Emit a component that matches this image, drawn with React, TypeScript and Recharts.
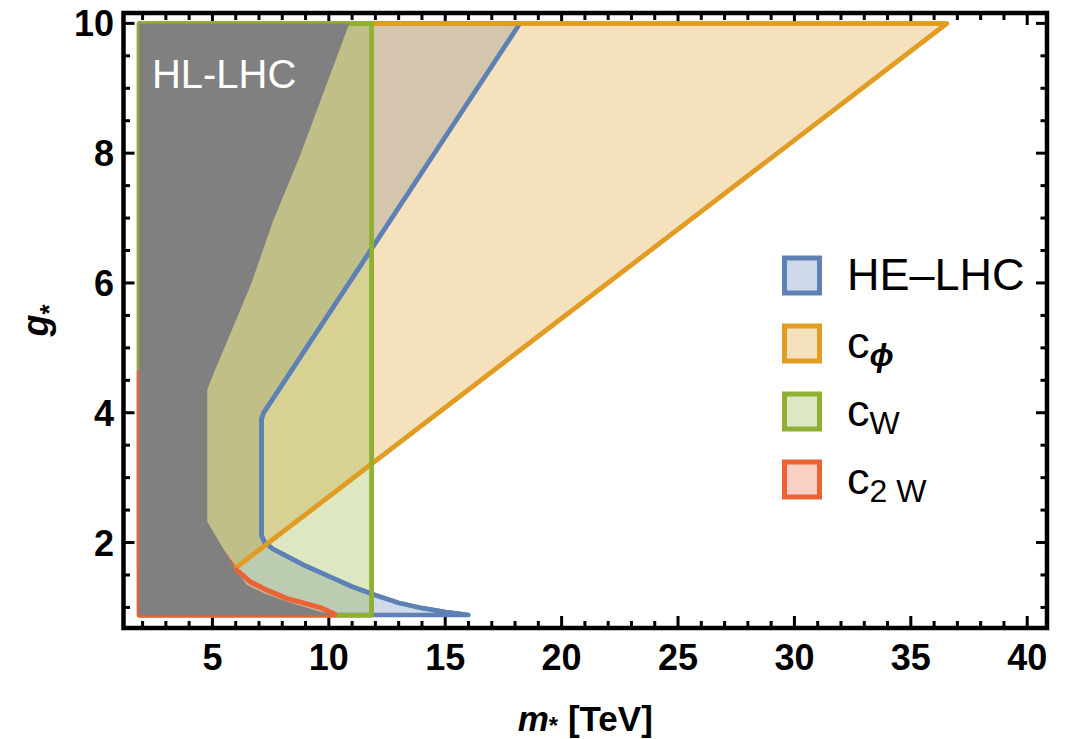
import React from 'react';
import { ScatterChart, Scatter, XAxis, YAxis, Legend, ReferenceDot, ReferenceLine, ReferenceArea } from 'recharts';

const FONT = '"Liberation Sans", Arial, Helvetica, sans-serif';

// ---- axis ticks ----
const xTicks = [2, 3, 4, 5, 6, 7, 8, 9, 10, 11, 12, 13, 14, 15, 16, 17, 18, 19, 20, 21, 22, 23, 24, 25, 26, 27, 28, 29, 30, 31, 32, 33, 34, 35, 36, 37, 38, 39, 40];
const xMajor = [5, 10, 15, 20, 25, 30, 35, 40];
const yTicks = [1, 1.5, 2, 2.5, 3, 3.5, 4, 4.5, 5, 5.5, 6, 6.5, 7, 7.5, 8, 8.5, 9, 9.5, 10];
const yMajor = [2, 4, 6, 8, 10];
const xDomain = [1.18, 40.85];
const yDomain = [0.683, 10.16];

// ---- regions (m_* [TeV], g_*) ----
const heLhcRegion = [
  { x: 1.85, y: 0.88 }, { x: 16.0, y: 0.885 }, { x: 15.0, y: 0.93 }, { x: 14.0, y: 0.99 },
  { x: 13.0, y: 1.07 }, { x: 12.0, y: 1.19 }, { x: 11.0, y: 1.32 }, { x: 10.0, y: 1.48 },
  { x: 9.0, y: 1.64 }, { x: 8.2, y: 1.79 }, { x: 7.6, y: 1.9 }, { x: 7.25, y: 2.0 },
  { x: 7.11, y: 2.1 }, { x: 7.11, y: 3.9 }, { x: 7.2, y: 4.0 }, { x: 7.33, y: 4.07 },
  { x: 18.21, y: 10 }, { x: 1.85, y: 10 },
];
const cPhiRegion = [
  { x: 5.97, y: 1.6 }, { x: 36.55, y: 10 }, { x: 1.85, y: 10 }, { x: 1.85, y: 1.6 },
];
const cWRegion = [
  { x: 1.85, y: 0.88 }, { x: 11.84, y: 0.88 }, { x: 11.84, y: 10 }, { x: 1.85, y: 10 },
];
const c2WRegion = [
  { x: 1.85, y: 0.88 }, { x: 10.33, y: 0.88 }, { x: 10.19, y: 0.91 }, { x: 9.62, y: 1.0 },
  { x: 8.19, y: 1.14 }, { x: 7.2, y: 1.29 }, { x: 6.61, y: 1.4 }, { x: 5.97, y: 1.6 },
  { x: 4.5, y: 2.3 }, { x: 3.0, y: 3.3 }, { x: 1.85, y: 4.63 },
];
const hlLhcRegion = [
  { x: 1.85, y: 0.88 }, { x: 10.2, y: 0.88 }, { x: 9.62, y: 0.934 }, { x: 8.19, y: 1.09 },
  { x: 7.2, y: 1.22 }, { x: 6.47, y: 1.345 }, { x: 5.97, y: 1.6 }, { x: 4.78, y: 2.32 },
  { x: 4.78, y: 4.35 }, { x: 4.93, y: 4.5 }, { x: 5.75, y: 5.2 }, { x: 6.68, y: 6.0 },
  { x: 7.6, y: 6.95 }, { x: 8.74, y: 7.94 }, { x: 10.88, y: 10 }, { x: 1.85, y: 10 },
];

// ---- visible boundary lines drawn on top ----
const heLhcEdge = [
  { x: 16.0, y: 0.885 }, { x: 15.0, y: 0.93 }, { x: 14.0, y: 0.99 }, { x: 13.0, y: 1.07 },
  { x: 12.0, y: 1.19 }, { x: 11.0, y: 1.32 }, { x: 10.0, y: 1.48 }, { x: 9.0, y: 1.64 },
  { x: 8.2, y: 1.79 }, { x: 7.6, y: 1.9 }, { x: 7.25, y: 2.0 }, { x: 7.11, y: 2.1 },
  { x: 7.11, y: 3.9 }, { x: 7.2, y: 4.0 }, { x: 7.33, y: 4.07 }, { x: 18.21, y: 10 },
];
const cPhiEdge = [{ x: 5.97, y: 1.6 }, { x: 36.55, y: 10 }, { x: 11.84, y: 10 }];
const cWEdge = [{ x: 10.33, y: 0.88 }, { x: 11.84, y: 0.88 }, { x: 11.84, y: 10 }, { x: 10.88, y: 10 }];
const c2WEdge = [
  { x: 10.33, y: 0.88 }, { x: 10.19, y: 0.91 }, { x: 9.62, y: 1.0 }, { x: 8.19, y: 1.14 },
  { x: 7.2, y: 1.29 }, { x: 6.61, y: 1.4 }, { x: 5.97, y: 1.6 },
];

// ---- legend ----
const legendLabels = ['HE–LHC', 'c', 'c', 'c'];
const legendSubs = ['', 'ϕ', 'W', '2 W'];
const legendColors = ['#5E81B5', '#E19C24', '#8FB032', '#EB6235'];

const pathOf = (pts: any[], close: boolean) =>
  pts.map((p: any, i: number) => (i ? 'L' : 'M') + p.x + ',' + p.y).join(' ') + (close ? ' Z' : '');

const polygonFill = (fill: string, fillOpacity: number) => (props: any) => {
  const pts = (props && props.points) || [];
  if (!pts.length) return <g />;
  return <path d={pathOf(pts, true)} fill={fill} fillOpacity={fillOpacity} stroke="none" />;
};
const polyStroke = (stroke: string, width: number, close: boolean) => (props: any) => {
  const pts = (props && props.points) || [];
  if (!pts.length) return <g />;
  return <path d={pathOf(pts, close)} fill="none" stroke={stroke} strokeWidth={width} strokeLinejoin="round" />;
};

const noShape = () => <g />;

const TK = 3; // tick thickness
const xTickShape = (major: boolean) => (p: any) => {
  const len = major ? 12 : 7;
  const x = Number(p.x1);
  const yb = Math.max(Number(p.y1), Number(p.y2));
  const yt = Math.min(Number(p.y1), Number(p.y2));
  return (
    <g>
      <rect x={x - TK / 2} y={yb - len} width={TK} height={len} fill="#000" />
      <rect x={x - TK / 2} y={yt} width={TK} height={len} fill="#000" />
    </g>
  );
};
const yTickShape = (major: boolean) => (p: any) => {
  const len = major ? 11 : 6.5;
  const y = Number(p.y1);
  const xl = Math.min(Number(p.x1), Number(p.x2));
  const xr = Math.max(Number(p.x1), Number(p.x2));
  return (
    <g>
      <rect x={xl} y={y - TK / 2} width={len} height={TK} fill="#000" />
      <rect x={xr - len} y={y - TK / 2} width={len} height={TK} fill="#000" />
    </g>
  );
};

const BottomLabel = (props: any) => {
  const { x, y, payload } = props;
  const v = payload.value;
  if (!xMajor.includes(v)) return <g />;
  return <text x={x} y={y + 42} textAnchor="middle" fontSize={36} fontWeight="bold" fontFamily={FONT} fill="#000">{v}</text>;
};
const LeftLabel = (props: any) => {
  const { x, y, payload } = props;
  const v = payload.value;
  if (!yMajor.includes(v)) return <g />;
  return <text x={x - 9.5} y={y + 13} textAnchor="end" fontSize={36} fontWeight="bold" fontFamily={FONT} fill="#000">{v}</text>;
};

const XTitle = (props: any) => {
  const vb = props.viewBox || { x: 123.5, y: 628, width: 923.5, height: 111 };
  return (
    <text x={vb.x + vb.width / 2} y={vb.y + 103} textAnchor="middle" fontSize={35} fontWeight="bold" fontFamily={FONT} fill="#000">
      <tspan fontStyle="italic">m</tspan>
      <tspan fontSize={24} dy={2.5}>*</tspan>
      <tspan dy={-2.5}> [TeV]</tspan>
    </text>
  );
};
const YTitle = (props: any) => {
  const vb = props.viewBox || { x: 0, y: 13, width: 123.5, height: 615 };
  const cx = 47.5;
  const cy = vb.y + vb.height / 2;
  return (
    <text x={cx} y={cy} transform={`rotate(-90 ${cx} ${cy})`} textAnchor="middle" fontSize={36} fontWeight="bold" fontFamily={FONT} fill="#000">
      <tspan fontStyle="italic">g</tspan>
      <tspan fontSize={26} dy={10}>*</tspan>
    </text>
  );
};

const renderLegend = () => (
  <svg width={300} height={280} style={{ display: 'block', overflow: 'visible' }}>
    {legendLabels.map((lab, i) => {
      const cy = 35.5 + i * 68;
      return (
        <g key={i}>
          <rect x={14.5} y={cy - 17.5} width={35} height={35} fill={legendColors[i]} fillOpacity={0.3}
            stroke={legendColors[i]} strokeWidth={5} />
          <text x={77} y={cy + 14.5} fontSize={45} fontFamily={FONT} fill="#000">
            {lab}
            {legendSubs[i] && (
              <tspan fontSize={32} dy={8} fontStyle={i === 1 ? 'italic' : 'normal'} fontWeight={i === 1 ? 'bold' : 'normal'}>
                {legendSubs[i]}
              </tspan>
            )}
          </text>
        </g>
      );
    })}
  </svg>
);

const LW = 4.5;

export default function App() {
  return (
    <div style={{ position: 'absolute', left: 0, top: 0, width: 1074, height: 739, background: '#fff' }}>
      <ScatterChart width={1074} height={739} margin={{ top: 13, right: 27, bottom: 0, left: 0 }}>
        <XAxis xAxisId="b" type="number" dataKey="x" domain={xDomain} allowDataOverflow ticks={xTicks} interval={0}
          orientation="bottom" height={111} tickSize={0} tickMargin={0} tickLine={false} axisLine={false}
          tick={BottomLabel} label={XTitle} />
        <YAxis yAxisId="l" type="number" dataKey="y" domain={yDomain} allowDataOverflow ticks={yTicks} interval={0}
          orientation="left" width={123.5} tickSize={0} tickMargin={0} tickLine={false} axisLine={false}
          tick={LeftLabel} label={YTitle} />

        {/* fills */}
        <Scatter name="HE–LHC" xAxisId="b" yAxisId="l" data={heLhcRegion} isAnimationActive={false} lineType="joint"
          line={polygonFill('#5E81B5', 0.3)} shape={noShape} />
        <Scatter name="cphi" xAxisId="b" yAxisId="l" data={cPhiRegion} isAnimationActive={false} lineType="joint"
          line={polygonFill('#E19C24', 0.3)} shape={noShape} />
        <Scatter name="cW" xAxisId="b" yAxisId="l" data={cWRegion} isAnimationActive={false} lineType="joint"
          line={polygonFill('#8FB032', 0.3)} shape={noShape} />
        <Scatter name="c2W" xAxisId="b" yAxisId="l" data={c2WRegion} isAnimationActive={false} lineType="joint"
          line={polygonFill('#EB6235', 0.3)} shape={noShape} />

        {/* region outlines (half hidden under HL-LHC) */}
        <Scatter xAxisId="b" yAxisId="l" data={heLhcRegion} isAnimationActive={false} lineType="joint"
          line={polyStroke('#5E81B5', LW, true)} shape={noShape} />
        <Scatter xAxisId="b" yAxisId="l" data={cPhiRegion} isAnimationActive={false} lineType="joint"
          line={polyStroke('#E19C24', LW, true)} shape={noShape} />
        <Scatter xAxisId="b" yAxisId="l" data={cWRegion} isAnimationActive={false} lineType="joint"
          line={polyStroke('#8FB032', LW, true)} shape={noShape} />
        <Scatter xAxisId="b" yAxisId="l" data={c2WRegion} isAnimationActive={false} lineType="joint"
          line={polyStroke('#EB6235', LW, true)} shape={noShape} />

        {/* HL-LHC excluded region */}
        <Scatter name="HL–LHC" xAxisId="b" yAxisId="l" data={hlLhcRegion} isAnimationActive={false} lineType="joint"
          line={polygonFill('#808080', 1)} shape={noShape} />

        {/* visible boundaries on top */}
        <Scatter xAxisId="b" yAxisId="l" data={heLhcEdge} isAnimationActive={false} lineType="joint"
          line={polyStroke('#5E81B5', LW, false)} shape={noShape} />
        <Scatter xAxisId="b" yAxisId="l" data={cPhiEdge} isAnimationActive={false} lineType="joint"
          line={polyStroke('#E19C24', LW, false)} shape={noShape} />
        <Scatter xAxisId="b" yAxisId="l" data={cWEdge} isAnimationActive={false} lineType="joint"
          line={polyStroke('#8FB032', LW, false)} shape={noShape} />
        <Scatter xAxisId="b" yAxisId="l" data={c2WEdge} isAnimationActive={false} lineType="joint"
          line={polyStroke('#EB6235', LW, false)} shape={noShape} />

        {/* tick marks on all four sides (inward) */}
        {xTicks.map((t) => (
          <ReferenceLine key={'xt' + t} xAxisId="b" yAxisId="l" x={t} stroke="none" ifOverflow="visible"
            shape={xTickShape(xMajor.includes(t))} />
        ))}
        {yTicks.map((t) => (
          <ReferenceLine key={'yt' + t} xAxisId="b" yAxisId="l" y={t} stroke="none" ifOverflow="visible"
            shape={yTickShape(yMajor.includes(t))} />
        ))}

        {/* frame */}
        <ReferenceArea xAxisId="b" yAxisId="l" x1={xDomain[0]} x2={xDomain[1]} y1={yDomain[0]} y2={yDomain[1]}
          ifOverflow="visible" fill="none" fillOpacity={0} stroke="#000" strokeWidth={4.5} />

        <ReferenceDot xAxisId="b" yAxisId="l" x={2.4} y={9.0} r={0}
          shape={(p: any) => (
            <text x={p.cx} y={p.cy} fontSize={40} fontFamily={FONT} fill="#fff">HL-LHC</text>
          )} />

        <Legend layout="vertical" align="center" verticalAlign="middle" content={renderLegend}
          wrapperStyle={{ position: 'absolute', left: 770, top: 240, width: 300, height: 280 }} />
      </ScatterChart>
    </div>
  );
}
